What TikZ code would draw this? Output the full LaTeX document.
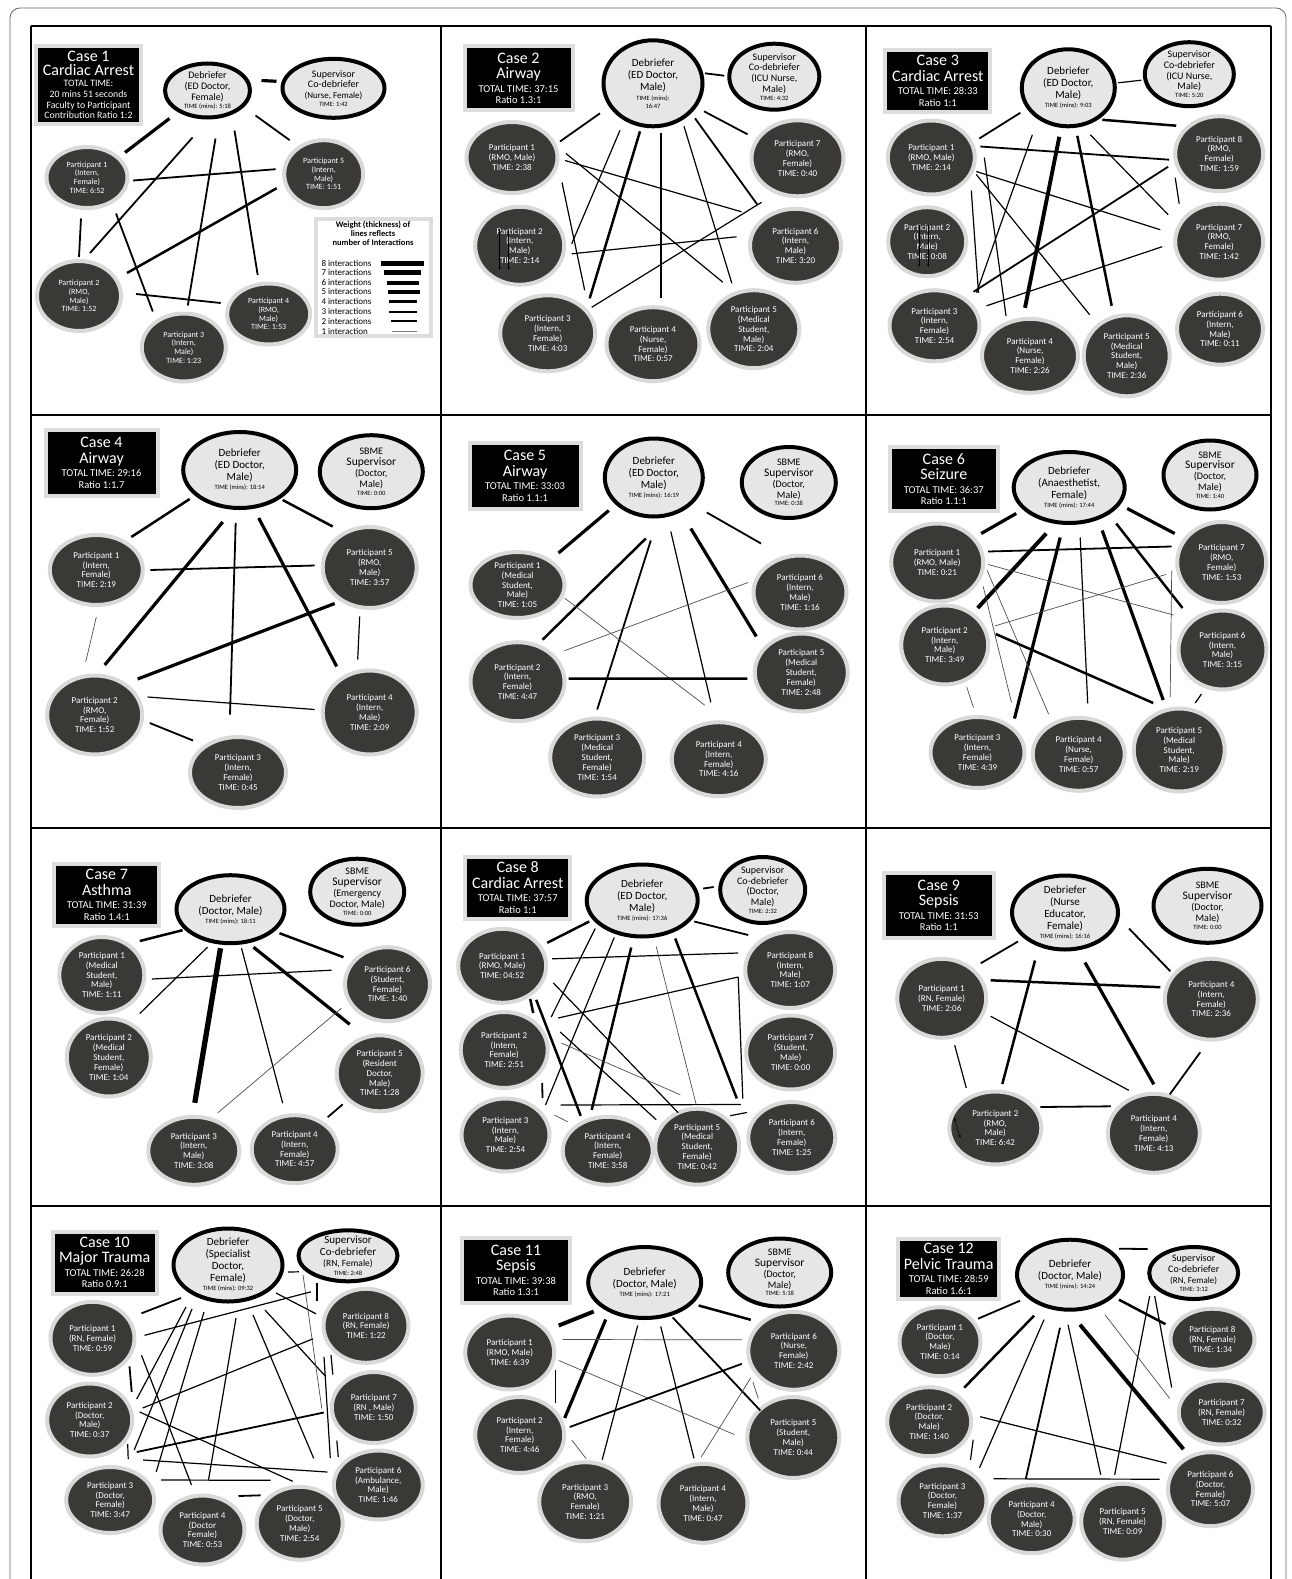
\documentclass[tikz,border=0pt]{standalone}
\usepackage{fontspec}
\setmainfont{Carlito}
\usetikzlibrary{shapes.geometric,calc,arrows.meta}

\definecolor{partfill}{HTML}{3B3936}
\definecolor{ringgray}{HTML}{D9D9D9}
\definecolor{debfill}{HTML}{E6E6E6}
\definecolor{boxgray}{HTML}{DDDDDD}

\newcommand{\cbig}[1]{{\fontsize{16}{16}\selectfont #1}}
\newcommand{\tm}[1]{{\fontsize{6.5}{7}\selectfont #1}}
\newcommand{\sv}[1]{{\fontsize{11.5}{12}\selectfont #1}}

\tikzset{
  deb/.style={ellipse, draw=black, line width=4pt, fill=debfill, inner sep=-2pt,
    align=center, font=\fontsize{11}{12}\selectfont},
  sup/.style={deb, font=\fontsize{10}{10.8}\selectfont},
  part/.style={ellipse, draw=ringgray, line width=4pt, fill=partfill, inner sep=-2pt,
    text=white, align=center, font=\fontsize{9}{9.8}\selectfont},
  casebox/.style={rectangle, fill=black, draw=boxgray, line width=4pt, inner sep=0pt,
    text=white, align=center, font=\fontsize{10.5}{11.5}\selectfont},
  legitem/.style={anchor=west, inner sep=0pt, font=\fontsize{9}{10}\selectfont},
  w1/.style={line width=0.7pt, draw=black!70},
  w2/.style={line width=1.2pt},
  w3/.style={line width=1.8pt},
  w4/.style={line width=2.5pt},
  w5/.style={line width=3.2pt},
  w6/.style={line width=3.9pt},
  w7/.style={line width=4.6pt},
  w8/.style={line width=5.3pt},
  stray/.style={line width=0.5pt, -{Stealth[length=3pt,width=2.5pt]}}
}

\begin{document}
\begin{tikzpicture}[x=1pt, y=-1pt]
\useasboundingbox (0,0) rectangle (1292,1579);

% frame and grid
\draw[black!60, line width=0.8pt, rounded corners=10pt] (10,8) rectangle (1286,1620);
\foreach \x in {30.5,441,866,1271}
  \draw[line width=2pt] (\x,26) -- (\x,1579);
\foreach \y in {26,415,828,1206}
  \draw[line width=2pt] (30.5,\y) -- (1271,\y);

% ---------------- Case 1
\node[casebox, font=\fontsize{9.8}{10.8}\selectfont, minimum width=105, minimum height=78] (c1t) at (88.5,85)
  {\cbig{Case 1}\\[2pt]\cbig{Cardiac Arrest}\\TOTAL TIME:\\20 mins 51 seconds\\Faculty to Participant\\Contribution Ratio 1:2};
\node[deb, font=\fontsize{10}{11}\selectfont, minimum width=85, minimum height=54] (c1d) at (207.5,90.5)
  {Debriefer\\(ED Doctor,\\Female)\\[-3pt]\tm{TIME (mins): 5:18}};
\node[sup, minimum width=102, minimum height=59] (c1s) at (333.5,88.3)
  {Supervisor\\Co-debriefer\\{\fontsize{9}{10}\selectfont (Nurse, Female)}\\[-3pt]\tm{TIME: 1:42}};
\node[part, font=\fontsize{8}{8.7}\selectfont, minimum width=81, minimum height=61] (c1p1) at (87,177.5) {Participant 1\\(Intern,\\Female)\\TIME: 6:52};
\node[part, font=\fontsize{8}{8.7}\selectfont, minimum width=79, minimum height=68] (c1p5) at (323.7,174.2) {Participant 5\\(Intern,\\Male)\\TIME: 1:51};
\node[part, font=\fontsize{8}{8.7}\selectfont, minimum width=84, minimum height=70] (c1p2) at (79,296) {Participant 2\\(RMO,\\Male)\\TIME: 1:52};
\node[part, font=\fontsize{8}{8.7}\selectfont, minimum width=83, minimum height=61] (c1p4) at (268.7,314) {Participant 4\\(RMO,\\Male)\\TIME: 1:53};
\node[part, font=\fontsize{8}{8.7}\selectfont, minimum width=84, minimum height=68] (c1p3) at (183.8,347.5) {Participant 3\\(Intern,\\Male)\\TIME: 1:23};

% legend
\node[draw=boxgray, line width=4pt, fill=white, inner sep=0pt, minimum width=115, minimum height=117.6] (leg) at (373.5,277.5) {};
\node[align=center, inner sep=0pt, font=\bfseries\fontsize{8.5}{9.3}\selectfont] (legt) at (373,233.5)
  {Weight (thickness) of\\lines reflects\\number of Interactions};
\foreach \n/\y/\xa/\xb/\lw in {8/263.3/381.3/423.7/5.3, 7/272.7/384/420.7/4.7, 6/282.7/387.3/418.7/4,
  5/291.7/388/419.7/3.7, 4/301.7/388.7/417/2.7, 3/311.7/389.3/417/2, 2/321/391.3/417/1.3}
{
  \node[legitem] (leg\n) at (321.3,\y) {\n\ interactions};
  \draw[line width=\lw] (\xa,\y) -- (\xb,\y);
}
\node[legitem] (leg1) at (321.3,331.7) {1 interaction};
\draw[line width=1pt, gray] (392,331.7) -- (417.3,331.7);

\draw[w5] ($(c1d)+(54,-10)$) -- ($(c1s)+(-57,-7)$);
\draw[w5] ($(c1d)+(-38,28)$) -- ($(c1p1)+(38,-25)$);
\draw[w3] ($(c1d)+(-15,47)$) -- ($(c1p2)+(11,-43)$);
\draw[w3] ($(c1d)+(8,48)$) -- ($(c1p3)+(4,-42)$);
\draw[w3] ($(c1d)+(27,40)$) -- ($(c1p4)+(-11,-39)$);
\draw[w3] ($(c1d)+(48,25)$) -- ($(c1p5)+(-34,-34)$);
\draw[w3] ($(c1p1)+(46,3)$) -- ($(c1p5)+(-48,-5)$);
\draw[w3] ($(c1p1)+(-6,41)$) -- ($(c1p2)+(0,-39)$);
\draw[w3] ($(c1p1)+(29,36)$) -- ($(c1p3)+(-31,-36)$);
\draw[w4] ($(c1p5)+(-47,14)$) -- ($(c1p2)+(48,-23)$);
\draw[w3] ($(c1p2)+(57,-2)$) -- ($(c1p4)+(-48,-11)$);

% ---------------- Case 2
\node[casebox, minimum width=108, minimum height=64] (c2t) at (518.5,78.3)
  {\cbig{Case 2}\\[4pt]\cbig{Airway}\\[2pt]TOTAL TIME: 37:15\\Ratio 1.3:1};
\node[deb, minimum width=99, minimum height=86] (c2d) at (653,83.3)
  {Debriefer\\(ED Doctor,\\Male)\\[-2pt]\tm{TIME (mins):}\\[-4pt]\tm{16:47}};
\node[sup, minimum width=90, minimum height=66] (c2s) at (774.3,76.7)
  {Supervisor\\Co-debriefer\\(ICU Nurse,\\Male)\\[-3pt]\tm{TIME: 4:32}};
\node[part, minimum width=91, minimum height=71] (c2p1) at (512,157.5) {Participant 1\\(RMO, Male)\\TIME: 2:38};
\node[part, minimum width=92, minimum height=76] (c2p7) at (797.5,158.3) {Participant 7\\(RMO,\\Female)\\TIME: 0:40};
\node[part, minimum width=89, minimum height=78] (c2p2) at (519.7,245.8) {Participant 2\\(Intern,\\Male)\\TIME: 2:14};
\node[part, minimum width=91, minimum height=74] (c2p6) at (795.5,245.8) {Participant 6\\(Intern,\\Male)\\TIME: 3:20};
\node[part, minimum width=95, minimum height=76] (c2p3) at (547.7,333.3) {Participant 3\\(Intern,\\Female)\\TIME: 4:03};
\node[part, minimum width=93, minimum height=74] (c2p4) at (653,344.2) {Participant 4\\(Nurse,\\Female)\\TIME: 0:57};
\node[part, minimum width=91, minimum height=78] (c2p5) at (753.8,329.2) {Participant 5\\(Medical\\Student,\\Male)\\TIME: 2:04};

\draw[w3] ($(c2d)+(52,-10)$) -- ($(c2s)+(-50,-1)$);
\draw[w3] ($(c2d)+(-53,30)$) -- ($(c2p1)+(48,-16)$);
\draw[w3] ($(c2d)+(51,28)$) -- ($(c2p7)+(-50,-24)$);
\draw[w2] ($(c2d)+(-33,47)$) -- ($(c2p2)+(52,-2)$);
\draw[w4] ($(c2d)+(-13,48)$) -- ($(c2p3)+(42,-35)$);
\draw[w4] ($(c2d)+(8,50)$) -- ($(c2p4)+(8,-46)$);
\draw[w2] ($(c2d)+(31,43)$) -- ($(c2p5)+(-22,-46)$);
\draw[w3] ($(c2d)+(42,35)$) -- ($(c2p6)+(-38,-41)$);
\draw[w2] ($(c2p1)+(53,3)$) -- ($(c2p6)+(-54,-34)$);
\draw[w2] ($(c2p1)+(54,-4)$) -- ($(c2p5)+(-31,-47)$);
\draw[w2] ($(c2p1)+(50,25)$) -- ($(c2p3)+(37,-43)$);
\draw[w2] ($(c2p2)+(52,8)$) -- ($(c2p6)+(-59,-9)$);
\draw[w2] ($(c2p3)+(44,-26)$) -- ($(c2p7)+(-36,44)$);
\draw[stray] ($(c2p2)+(-20,-17)$) -- ($(c2p2)+(-20,24)$);
\draw[stray] ($(c2p2)+(-11,-16)$) -- ($(c2p2)+(-11,24)$);

% ---------------- Case 3
\node[casebox, minimum width=105, minimum height=62] (c3t) at (937.8,80.8)
  {\cbig{Case 3}\\[4pt]\cbig{Cardiac Arrest}\\[2pt]TOTAL TIME: 28:33\\Ratio 1:1};
\node[deb, minimum width=93, minimum height=77] (c3d) at (1068.3,87.8)
  {Debriefer\\(ED Doctor,\\Male)\\[-3pt]\tm{TIME (mins): 9:03}};
\node[sup, minimum width=89, minimum height=64] (c3s) at (1189.3,74.2)
  {Supervisor\\Co-debriefer\\(ICU Nurse,\\Male)\\[-3pt]\tm{TIME: 5:20}};
\node[part, minimum width=87, minimum height=74] (c3p1) at (931.3,157.5) {Participant 1\\(RMO, Male)\\TIME: 2:14};
\node[part, minimum width=88, minimum height=75] (c3p8) at (1219.2,153.7) {Participant 8\\(RMO,\\Female)\\TIME: 1:59};
\node[part, minimum width=78, minimum height=69] (c3p2) at (927.2,241.7) {Participant 2\\(Intern,\\Male)\\TIME: 0:08};
\node[part, minimum width=88, minimum height=76] (c3p7) at (1219.2,241.7) {Participant 7\\(RMO,\\Female)\\TIME: 1:42};
\node[part, minimum width=90, minimum height=71] (c3p3) at (934.5,325.8) {Participant 3\\(Intern,\\Female)\\TIME: 2:54};
\node[part, minimum width=96, minimum height=74] (c3p4) at (1030,355.8) {Participant 4\\(Nurse,\\Female)\\TIME: 2:26};
\node[part, minimum width=86, minimum height=81] (c3p5) at (1126.7,355.8) {Participant 5\\(Medical\\Student,\\Male)\\TIME: 2:36};
\node[part, minimum width=86, minimum height=71] (c3p6) at (1220,329.2) {Participant 6\\(Intern,\\Male)\\TIME: 0:11};

\draw[w2] ($(c3d)+(50,-5)$) -- ($(c3s)+(-48,6)$);
\draw[w3] ($(c3d)+(-48,25)$) -- ($(c3p1)+(48,-19)$);
\draw[w4] ($(c3d)+(34,32)$) -- ($(c3p8)+(-43,-28)$);
\draw[w2] ($(c3d)+(-36,47)$) -- ($(c3p3)+(42,-33)$);
\draw[w6] ($(c3d)+(-9,49)$) -- ($(c3p4)+(-5,-48)$);
\draw[w4] ($(c3d)+(9,48)$) -- ($(c3p5)+(-15,-50)$);
\draw[w2] ($(c3d)+(22,47)$) -- ($(c3p7)+(-51,-27)$);
\draw[w3] ($(c3p1)+(49,-11)$) -- ($(c3p8)+(-50,6)$);
\draw[w2] ($(c3p1)+(45,14)$) -- ($(c3p7)+(-59,-12)$);
\draw[w2] ($(c3p1)+(45,17)$) -- ($(c3p5)+(-37,-41)$);
\draw[w2] ($(c3p1)+(53,0)$) -- ($(c3p4)+(-24,-40)$);
\draw[w2] ($(c3p1)+(40,33)$) -- ($(c3p3)+(44,-33)$);
\draw[w3] ($(c3p3)+(39,-34)$) -- ($(c3p8)+(-51,13)$);
\draw[w2] ($(c3p3)+(52,-20)$) -- ($(c3p7)+(-57,5)$);
\draw[w2] ($(c3p8)+(-44,24)$) -- ($(c3p7)+(-40,-38)$);
\draw[stray] ($(c3p2)+(-8,-17)$) -- ($(c3p2)+(-8,25)$);
\draw[stray] ($(c3p2)+(1,-17)$) -- ($(c3p2)+(1,25)$);

% ---------------- Case 4
\node[casebox, minimum width=112, minimum height=66] (c4t) at (101.5,462.8)
  {\cbig{Case 4}\\[4pt]\cbig{Airway}\\[2pt]TOTAL TIME: 29:16\\Ratio 1:1.7};
\node[deb, minimum width=113, minimum height=76] (c4d) at (239.7,470)
  {Debriefer\\(ED Doctor,\\Male)\\[-3pt]\tm{TIME (mins): 18:14}};
\node[sup, minimum width=103, minimum height=73] (c4s) at (371.3,471.7)
  {SBME\\\sv{Supervisor}\\(Doctor,\\Male)\\[-3pt]\tm{TIME: 0:00}};
\node[part, minimum width=93, minimum height=70] (c4p1) at (96.3,570) {Participant 1\\(Intern,\\Female)\\TIME: 2:19};
\node[part, minimum width=94, minimum height=81] (c4p5) at (369.7,567.5) {Participant 5\\(RMO,\\Male)\\TIME: 3:57};
\node[part, minimum width=95, minimum height=79] (c4p2) at (94.7,715) {Participant 2\\(RMO,\\Female)\\TIME: 1:52};
\node[part, minimum width=94, minimum height=84] (c4p4) at (369.7,712.5) {Participant 4\\(Intern,\\Male)\\TIME: 2:09};
\node[part, minimum width=96, minimum height=71] (c4p3) at (238,772.5) {Participant 3\\(Intern,\\Female)\\TIME: 0:45};

\draw[w4] ($(c4d)+(-50,29)$) -- ($(c4p1)+(35,-33)$);
\draw[w4] ($(c4d)+(43,30)$) -- ($(c4p5)+(-37,-41)$);
\draw[w5] ($(c4d)+(-17,52)$) -- ($(c4p2)+(10,-50)$);
\draw[w3] ($(c4d)+(-4,53)$) -- ($(c4p3)+(-8,-58)$);
\draw[w5] ($(c4d)+(19,48)$) -- ($(c4p4)+(-33,-46)$);
\draw[w3] ($(c4p1)+(54,0)$) -- ($(c4p5)+(-55,-2)$);
\draw[w1] ($(c4p1)+(0,47)$) -- ($(c4p2)+(-9,-53)$);
\draw[w5] ($(c4p5)+(-35,36)$) -- ($(c4p2)+(43,-36)$);
\draw[w2] ($(c4p5)+(-10,49)$) -- ($(c4p4)+(-12,-53)$);
\draw[w2] ($(c4p2)+(53,-18)$) -- ($(c4p4)+(-55,-3)$);
\draw[w3] ($(c4p2)+(55,8)$) -- ($(c4p3)+(-45,-32)$);

% ---------------- Case 5
\node[casebox, minimum width=111, minimum height=66] (c5t) at (525,475.8)
  {\cbig{Case 5}\\[4pt]\cbig{Airway}\\[2pt]TOTAL TIME: 33:03\\Ratio 1.1:1};
\node[deb, minimum width=98, minimum height=78] (c5d) at (653.8,477.5)
  {Debriefer\\(ED Doctor,\\Male)\\[-3pt]\tm{TIME (mins): 16:19}};
\node[sup, minimum width=94, minimum height=71] (c5s) at (788.8,482.5)
  {SBME\\\sv{Supervisor}\\(Doctor,\\Male)\\[-3pt]\tm{TIME: 0:38}};
\node[part, minimum width=94, minimum height=66] (c5p1) at (517.5,585) {Participant 1\\(Medical\\Student,\\Male)\\TIME: 1:05};
\node[part, minimum width=93, minimum height=74] (c5p6) at (800,592.5) {Participant 6\\(Intern,\\Male)\\TIME: 1:16};
\node[part, minimum width=94, minimum height=79] (c5p2) at (517.5,681.7) {Participant 2\\(Intern,\\Female)\\TIME: 4:47};
\node[part, minimum width=93, minimum height=78] (c5p5) at (801.3,672.5) {Participant 5\\(Medical\\Student,\\Female)\\TIME: 2:48};
\node[part, minimum width=94, minimum height=78] (c5p3) at (597.2,757.5) {Participant 3\\(Medical\\Student,\\Female)\\TIME: 1:54};
\node[part, minimum width=94, minimum height=74] (c5p4) at (718.8,759.2) {Participant 4\\(Intern,\\Female)\\TIME: 4:16};

\draw[w5] ($(c5d)+(-45,33)$) -- ($(c5p1)+(41,-32)$);
\draw[w3] ($(c5d)+(53,35)$) -- ($(c5p6)+(-39,-49)$);
\draw[w4] ($(c5d)+(-8,61)$) -- ($(c5p2)+(25,-42)$);
\draw[w3] ($(c5d)+(-3,63)$) -- ($(c5p3)+(0,-48)$);
\draw[w2] ($(c5d)+(17,54)$) -- ($(c5p4)+(-8,-57)$);
\draw[w5] ($(c5d)+(37,51)$) -- ($(c5p5)+(-45,-36)$);
\draw[w1] ($(c5p1)+(47,13)$) -- ($(c5p4)+(-14,-54)$);
\draw[w1] ($(c5p2)+(47,-31)$) -- ($(c5p6)+(-52,-10)$);
\draw[w4] ($(c5p2)+(51,-3)$) -- ($(c5p5)+(-54,6)$);

% ---------------- Case 6
\node[casebox, minimum width=108, minimum height=64] (c6t) at (943.8,479.3)
  {\cbig{Case 6}\\[4pt]\cbig{Seizure}\\[2pt]TOTAL TIME: 36:37\\Ratio 1.1:1};
\node[deb, minimum width=111, minimum height=71] (c6d) at (1069.2,487.5)
  {Debriefer\\(Anaesthetist,\\Female)\\[-3pt]\tm{TIME (mins): 17:44}};
\node[sup, minimum width=93, minimum height=69] (c6s) at (1210,475)
  {SBME\\\sv{Supervisor}\\(Doctor,\\Male)\\[-3pt]\tm{TIME: 1:40}};
\node[part, minimum width=92, minimum height=78] (c6p1) at (937.2,562.5) {Participant 1\\(RMO, Male)\\TIME: 0:21};
\node[part, minimum width=89, minimum height=81] (c6p7) at (1221.7,562.5) {Participant 7\\(RMO,\\Female)\\TIME: 1:53};
\node[part, minimum width=87, minimum height=79] (c6p2) at (944.7,645) {Participant 2\\(Intern,\\Male)\\TIME: 3:49};
\node[part, minimum width=88, minimum height=79] (c6p6) at (1222.5,650) {Participant 6\\(Intern,\\Male)\\TIME: 3:15};
\node[part, minimum width=94, minimum height=71] (c6p3) at (977.5,752.5) {Participant 3\\(Intern,\\Female)\\TIME: 4:39};
\node[part, minimum width=92, minimum height=73] (c6p4) at (1078.7,754.3) {Participant 4\\(Nurse,\\Female)\\TIME: 0:57};
\node[part, minimum width=91, minimum height=83] (c6p5) at (1179.2,750) {Participant 5\\(Medical\\Student,\\Male)\\TIME: 2:19};

\draw[w5] ($(c6d)+(-53,26)$) -- ($(c6p1)+(44,-29)$);
\draw[w5] ($(c6d)+(58,21)$) -- ($(c6p7)+(-47,-29)$);
\draw[w6] ($(c6d)+(-23,46)$) -- ($(c6p2)+(33,-37)$);
\draw[w5] ($(c6d)+(-9,50)$) -- ($(c6p3)+(37,-34)$);
\draw[w2] ($(c6d)+(11,50)$) -- ($(c6p4)+(9,-51)$);
\draw[w5] ($(c6d)+(33,43)$) -- ($(c6p5)+(-16,-50)$);
\draw[w4] ($(c6d)+(47,36)$) -- ($(c6p6)+(-40,-42)$);
\draw[w3] ($(c6p1)+(51,-11)$) -- ($(c6p7)+(-50,-16)$);
\draw[w1] ($(c6p1)+(51,2)$) -- ($(c6p6)+(-49,-35)$);
\draw[w1] ($(c6p1)+(50,8)$) -- ($(c6p4)+(-30,-40)$);
\draw[w1] ($(c6p1)+(46,24)$) -- ($(c6p3)+(34,-50)$);
\draw[w1] ($(c6p2)+(50,-19)$) -- ($(c6p7)+(-56,12)$);
\draw[w4] ($(c6p2)+(51,-11)$) -- ($(c6p5)+(-26,-47)$);
\draw[w1] ($(c6p2)+(22,42)$) -- ($(c6p3)+(-4,-45)$);
\draw[w1] ($(c6p7)+(-50,8)$) -- ($(c6p5)+(-9,-53)$);
\draw[w2] ($(c6p6)+(-21,44)$) -- ($(c6p5)+(16,-47)$);

% ---------------- Case 7
\node[casebox, minimum width=105, minimum height=62] (c7t) at (106.8,895)
  {\cbig{Case 7}\\[4pt]\cbig{Asthma}\\[2pt]TOTAL TIME: 31:39\\Ratio 1.4:1};
\node[deb, minimum width=108, minimum height=68] (c7d) at (230.5,909.2)
  {Debriefer\\(Doctor, Male)\\[-3pt]\tm{TIME (mins): 18:11}};
\node[sup, minimum width=94, minimum height=66] (c7s) at (357.2,891.7)
  {SBME\\\sv{Supervisor}\\(Emergency\\Doctor, Male)\\[-3pt]\tm{TIME: 0:00}};
\node[part, minimum width=85, minimum height=76] (c7p1) at (101.8,975) {Participant 1\\(Medical\\Student,\\Male)\\TIME: 1:11};
\node[part, minimum width=85, minimum height=74] (c7p6) at (387.5,984.2) {Participant 6\\(Student,\\Female)\\TIME: 1:40};
\node[part, minimum width=84, minimum height=78] (c7p2) at (108.8,1057.5) {Participant 2\\(Medical\\Student,\\Female)\\TIME: 1:04};
\node[part, minimum width=86, minimum height=76] (c7p5) at (379.7,1073.3) {Participant 5\\(Resident\\Doctor,\\Male)\\TIME: 1:28};
\node[part, minimum width=91, minimum height=68] (c7p3) at (193.8,1150.8) {Participant 3\\(Intern,\\Male)\\TIME: 3:08};
\node[part, minimum width=86, minimum height=68] (c7p4) at (294.7,1149.2) {Participant 4\\(Intern,\\Female)\\TIME: 4:57};

\draw[w4] ($(c7d)+(-48,21)$) -- ($(c7p1)+(38,-34)$);
\draw[w4] ($(c7d)+(49,24)$) -- ($(c7p6)+(-44,-27)$);
\draw[w2] ($(c7d)+(-23,38)$) -- ($(c7p2)+(31,-44)$);
\draw[w8] ($(c7d)+(-10,39)$) -- ($(c7p3)+(1,-48)$);
\draw[w2] ($(c7d)+(11,39)$) -- ($(c7p4)+(-12,-46)$);
\draw[w5] ($(c7d)+(23,38)$) -- ($(c7p5)+(-30,-49)$);
\draw[w2] ($(c7p1)+(50,4)$) -- ($(c7p6)+(-56,-14)$);
\draw[w1] ($(c7p3)+(24,-38)$) -- ($(c7p6)+(-46,24)$);
\draw[w3] ($(c7p4)+(33,-32)$) -- ($(c7p5)+(-37,31)$);

% ---------------- Case 8
\node[casebox, minimum width=105, minimum height=62] (c8t) at (517.7,887.5)
  {\cbig{Case 8}\\[4pt]\cbig{Cardiac Arrest}\\[2pt]TOTAL TIME: 37:57\\Ratio 1:1};
\node[deb, minimum width=111, minimum height=72] (c8d) at (642.2,900.5)
  {Debriefer\\(ED Doctor,\\Male)\\[-3pt]\tm{TIME (mins): 17:36}};
\node[sup, minimum width=85, minimum height=66] (c8s) at (762.7,890)
  {Supervisor\\Co-debriefer\\(Doctor,\\Male)\\[-3pt]\tm{TIME: 2:32}};
\node[part, minimum width=88, minimum height=74] (c8p1) at (502.2,965.8) {Participant 1\\(RMO, Male)\\TIME: 04:52};
\node[part, minimum width=90, minimum height=76] (c8p8) at (790.2,970) {Participant 8\\(Intern,\\Male)\\TIME: 1:07};
\node[part, minimum width=87, minimum height=76] (c8p2) at (504.2,1050) {Participant 2\\(Intern,\\Female)\\TIME: 2:51};
\node[part, minimum width=89, minimum height=74] (c8p7) at (790.7,1052.5) {Participant 7\\(Student,\\Male)\\TIME: 0:00};
\node[part, minimum width=88, minimum height=73] (c8p3) at (505.5,1135) {Participant 3\\(Intern,\\Male)\\TIME: 2:54};
\node[part, minimum width=90, minimum height=68] (c8p4) at (607.7,1150.8) {Participant 4\\(Intern,\\Female)\\TIME: 3:58};
\node[part, minimum width=84, minimum height=76] (c8p5) at (697.2,1146.7) {Participant 5\\(Medical\\Student,\\Female)\\TIME: 0:42};
\node[part, minimum width=87, minimum height=71] (c8p6) at (791.8,1137.5) {Participant 6\\(Intern,\\Female)\\TIME: 1:25};

\draw[w3] ($(c8d)+(61,-12)$) -- ($(c8s)+(-49,-3)$);
\draw[w4] ($(c8d)+(-53,21)$) -- ($(c8p1)+(45,-23)$);
\draw[w3] ($(c8d)+(52,21)$) -- ($(c8p8)+(-42,-35)$);
\draw[w2] ($(c8d)+(-47,28)$) -- ($(c8p2)+(47,-33)$);
\draw[w2] ($(c8d)+(-28,37)$) -- ($(c8p3)+(40,-30)$);
\draw[w4] ($(c8d)+(-11,47)$) -- ($(c8p4)+(-16,-41)$);
\draw[w1] ($(c8d)+(14,46)$) -- ($(c8p5)+(-1,-42)$);
\draw[w4] ($(c8d)+(33,38)$) -- ($(c8p6)+(-55,-39)$);
\draw[w2] ($(c8p1)+(50,-7)$) -- ($(c8p8)+(-52,-17)$);
\draw[w2] ($(c8p1)+(51,17)$) -- ($(c8p5)+(-19,-34)$);
\draw[w4] ($(c8p1)+(34,34)$) -- ($(c8p4)+(-27,-35)$);
\draw[w4] ($(c8p1)+(28,33)$) -- ($(c8p2)+(29,-37)$);
\draw[w2] ($(c8p2)+(54,-32)$) -- ($(c8p8)+(-52,7)$);
\draw[w2] ($(c8p8)+(-52,7)$) -- ($(c8p6)+(-49,-39)$);
\draw[w2] ($(c8p2)+(56,-18)$) -- ($(c8p5)+(-41,-27)$);
\draw[w1] ($(c8p2)+(57,-7)$) -- ($(c8p5)+(-17,-52)$);
\draw[w3] ($(c8p2)+(38,33)$) -- ($(c8p3)+(37,-37)$);
\draw[w2] ($(c8p3)+(55,-30)$) -- ($(c8p6)+(-51,-33)$);
\draw[w1] ($(c8p3)+(49,-20)$) -- ($(c8p4)+(-40,-29)$);
\draw[w2] ($(c8p5)+(33,-31)$) -- ($(c8p6)+(-45,-25)$);

% ---------------- Case 9
\node[casebox, minimum width=110, minimum height=65] (c9t) at (938.8,905.5)
  {\cbig{Case 9}\\[4pt]\cbig{Sepsis}\\[2pt]TOTAL TIME: 31:53\\Ratio 1:1};
\node[deb, minimum width=106, minimum height=74] (c9d) at (1065,912.5)
  {Debriefer\\(Nurse\\Educator,\\Female)\\[-3pt]\tm{TIME (mins): 16:16}};
\node[sup, minimum width=108, minimum height=74] (c9s) at (1207.5,905.8)
  {SBME\\\sv{Supervisor}\\(Doctor,\\Male)\\[-3pt]\tm{TIME: 0:00}};
\node[part, minimum width=89, minimum height=79] (c9p1) at (941.7,998.3) {Participant 1\\(RN, Female)\\TIME: 2:06};
\node[part, minimum width=93, minimum height=81] (c9p4) at (1211.3,999.2) {Participant 4\\(Intern,\\Female)\\TIME: 2:36};
\node[part, minimum width=92, minimum height=73] (c9p2) at (995.3,1128) {Participant 2\\(RMO,\\Male)\\TIME: 6:42};
\node[part, minimum width=92, minimum height=79] (c9p4b) at (1153.8,1133.3) {Participant 4\\(Intern,\\Female)\\TIME: 4:13};

\draw[w3] ($(c9d)+(-47,29)$) -- ($(c9p1)+(39,-35)$);
\draw[w3] ($(c9d)+(64,16)$) -- ($(c9p4)+(-41,-28)$);
\draw[w4] ($(c9d)+(-30,48)$) -- ($(c9p2)+(7,-44)$);
\draw[w5] ($(c9d)+(20,50)$) -- ($(c9p4b)+(0,-49)$);
\draw[w4] ($(c9p1)+(49,-18)$) -- ($(c9p4)+(-51,-12)$);
\draw[w2] ($(c9p1)+(49,18)$) -- ($(c9p4b)+(-25,-43)$);
\draw[w2] ($(c9p1)+(13,47)$) -- ($(c9p2)+(-29,-40)$);
\draw[w3] ($(c9p2)+(45,-21)$) -- ($(c9p4b)+(-43,-27)$);
\draw[w3] ($(c9p4)+(-11,53)$) -- ($(c9p4b)+(16,-39)$);
\draw[line width=0.5pt, {Stealth[length=3pt,width=2.5pt]}-{Stealth[length=3pt,width=2.5pt]}] ($(c9p2)+(-41,-10)$) -- ($(c9p2)+(-35,10)$);

% ---------------- Case 10
\node[casebox, minimum width=104, minimum height=62] (c10t) at (104.7,1262.5)
  {\cbig{Case 10}\\[4pt]\cbig{Major Trauma}\\[2pt]TOTAL TIME: 26:28\\Ratio 0.9:1};
\node[deb, minimum width=109, minimum height=73] (c10d) at (228,1265)
  {Debriefer\\(Specialist\\Doctor,\\Female)\\[-3pt]\tm{TIME (mins): 09:32}};
\node[sup, font=\fontsize{11}{11.5}\selectfont, minimum width=99, minimum height=51] (c10s) at (348,1255.8)
  {Supervisor\\Co-debriefer\\{\fontsize{9.5}{10}\selectfont (RN, Female)}\\[-3pt]\tm{TIME: 2:48}};
\node[part, minimum width=84, minimum height=73] (c10p1) at (92.5,1338.3) {Participant 1\\(RN, Female)\\TIME: 0:59};
\node[part, minimum width=85, minimum height=74] (c10p8) at (366,1325.8) {Participant 8\\(RN, Female)\\TIME: 1:22};
\node[part, minimum width=85, minimum height=73] (c10p2) at (89.7,1420) {Participant 2\\(Doctor,\\Male)\\TIME: 0:37};
\node[part, minimum width=84, minimum height=71] (c10p7) at (373.8,1407.5) {Participant 7\\(RN , Male)\\TIME: 1:50};
\node[part, minimum width=88, minimum height=66] (c10p3) at (110.2,1500) {Participant 3\\(Doctor,\\Female)\\TIME: 3:47};
\node[part, minimum width=84, minimum height=69] (c10p4) at (202.5,1530) {Participant 4\\(Doctor\\Female)\\TIME: 0:53};
\node[part, minimum width=86, minimum height=73] (c10p5) at (299.7,1523.3) {Participant 5\\(Doctor,\\Male)\\TIME: 2:54};
\node[part, minimum width=89, minimum height=69] (c10p6) at (378.3,1485) {Participant 6\\(Ambulance,\\Male)\\TIME: 1:46};

\draw[w3] ($(c10d)+(-47,33)$) -- ($(c10p1)+(49,-25)$);
\draw[w2] ($(c10d)+(60,7)$) -- ($(c10s)+(-49,16)$);
\draw[w2] ($(c10d)+(48,28)$) -- ($(c10p8)+(-50,-12)$);
\draw[w2] ($(c10d)+(-42,42)$) -- ($(c10p2)+(47,-21)$);
\draw[w2] ($(c10d)+(-36,44)$) -- ($(c10p3)+(24,-50)$);
\draw[w2] ($(c10d)+(-24,47)$) -- ($(c10p3)+(46,-28)$);
\draw[w2] ($(c10d)+(8,53)$) -- ($(c10p4)+(6,-50)$);
\draw[w2] ($(c10d)+(25,50)$) -- ($(c10p5)+(14,-65)$);
\draw[w2] ($(c10d)+(37,45)$) -- ($(c10p7)+(-49,-32)$);
\draw[w1] ($(c10s)+(-45,19)$) -- ($(c10p7)+(-52,1)$);
\draw[w2] ($(c10s)+(-31,27)$) -- ($(c10p8)+(-49,-25)$);
\draw[w2] ($(c10p1)+(52,-3)$) -- ($(c10p8)+(-55,-34)$);
\draw[w2] ($(c10p1)+(49,17)$) -- ($(c10p4)+(-11,-45)$);
\draw[w3] ($(c10p1)+(37,28)$) -- ($(c10p2)+(42,-28)$);
\draw[w2] ($(c10p2)+(53,-12)$) -- ($(c10p8)+(-53,13)$);
\draw[w2] ($(c10p2)+(50,-8)$) -- ($(c10p5)+(-7,-42)$);
\draw[w3] ($(c10p2)+(47,32)$) -- ($(c10p7)+(-50,5)$);
\draw[w2] ($(c10p2)+(38,24)$) -- ($(c10p3)+(18,-41)$);
\draw[w2] ($(c10p3)+(33,-40)$) -- ($(c10p6)+(-51,-13)$);
\draw[w2] ($(c10p3)+(51,-20)$) -- ($(c10p5)+(-29,-43)$);
\draw[w3] ($(c10p4)+(36,-34)$) -- ($(c10p5)+(-39,-28)$);
\draw[w2] ($(c10p8)+(-35,29)$) -- ($(c10p7)+(-41,-33)$);
\draw[w2] ($(c10p8)+(-42,31)$) -- ($(c10p6)+(-48,-27)$);
\draw[w2] ($(c10p7)+(-37,33)$) -- ($(c10p6)+(-40,-28)$);

% ---------------- Case 11
\node[casebox, minimum width=108, minimum height=65] (c11t) at (516,1270.5)
  {\cbig{Case 11}\\[4pt]\cbig{Sepsis}\\[2pt]TOTAL TIME: 39:38\\Ratio 1.3:1};
\node[deb, minimum width=113, minimum height=71] (c11d) at (644.7,1282.5)
  {Debriefer\\(Doctor, Male)\\[-3pt]\tm{TIME (mins): 17:21}};
\node[sup, minimum width=103, minimum height=68] (c11s) at (779.7,1272.5)
  {SBME\\\sv{Supervisor}\\(Doctor,\\Male)\\[-3pt]\tm{TIME: 5:18}};
\node[part, minimum width=89, minimum height=74] (c11p1) at (509.7,1352.5) {Participant 1\\(RMO, Male)\\TIME: 6:39};
\node[part, minimum width=91, minimum height=78] (c11p6) at (793.8,1350.8) {Participant 6\\(Nurse,\\Female)\\TIME: 2:42};
\node[part, minimum width=89, minimum height=76] (c11p2) at (519.7,1435) {Participant 2\\(Intern,\\Female)\\TIME: 4:46};
\node[part, minimum width=92, minimum height=81] (c11p5) at (793.3,1437.5) {Participant 5\\(Student,\\Male)\\TIME: 0:44};
\node[part, minimum width=92, minimum height=79] (c11p3) at (585.2,1501.7) {Participant 3\\(RMO,\\Female)\\TIME: 1:21};
\node[part, minimum width=89, minimum height=79] (c11p4) at (703,1503.3) {Participant 4\\(Intern,\\Male)\\TIME: 0:47};

\draw[w6] ($(c11d)+(-51,29)$) -- ($(c11p1)+(49,-27)$);
\draw[w4] ($(c11d)+(54,23)$) -- ($(c11p6)+(-43,-31)$);
\draw[w5] ($(c11d)+(-39,37)$) -- ($(c11p2)+(45,-17)$);
\draw[w2] ($(c11d)+(-7,43)$) -- ($(c11p3)+(17,-42)$);
\draw[w2] ($(c11d)+(16,44)$) -- ($(c11p4)+(-9,-45)$);
\draw[w3] ($(c11d)+(28,35)$) -- ($(c11p5)+(-33,-27)$);
\draw[w1] ($(c11p1)+(53,-13)$) -- ($(c11p6)+(-52,-11)$);
\draw[w1] ($(c11p1)+(49,8)$) -- ($(c11p5)+(-59,-3)$);
\draw[w2] ($(c11p1)+(46,17)$) -- ($(c11p2)+(36,-32)$);
\draw[w3] ($(c11p2)+(50,-8)$) -- ($(c11p6)+(-52,13)$);
\draw[w1] ($(c11p2)+(52,5)$) -- ($(c11p3)+(1,-43)$);
\draw[w1] ($(c11p4)+(-2,-46)$) -- ($(c11p6)+(-43,27)$);
\draw[w1] ($(c11p6)+(-41,31)$) -- ($(c11p5)+(-35,-39)$);

% ---------------- Case 12
\node[casebox, minimum width=101, minimum height=60] (c12t) at (948.7,1268.8)
  {\cbig{Case 12}\\[4pt]\cbig{Pelvic Trauma}\\[2pt]TOTAL TIME: 28:59\\Ratio 1.6:1};
\node[deb, minimum width=106, minimum height=70] (c12d) at (1070,1274.7)
  {Debriefer\\(Doctor, Male)\\[-3pt]\tm{TIME (mins): 14:24}};
\node[sup, minimum width=89, minimum height=52] (c12s) at (1193.7,1273)
  {Supervisor\\Co-debriefer\\{\fontsize{9}{10}\selectfont (RN, Female)}\\[-3pt]\tm{TIME: 3:12}};
\node[part, minimum width=81, minimum height=69] (c12p1) at (940,1341.7) {Participant 1\\(Doctor,\\Male)\\TIME: 0:14};
\node[part, minimum width=84, minimum height=61] (c12p8) at (1212.5,1339.2) {Participant 8\\(RN, Female)\\TIME: 1:34};
\node[part, minimum width=84, minimum height=69] (c12p2) at (929.2,1421.7) {Participant 2\\(Doctor,\\Male)\\TIME: 1:40};
\node[part, minimum width=86, minimum height=64] (c12p7) at (1221.7,1412.5) {Participant 7\\(RN, Female)\\TIME: 0:32};
\node[part, minimum width=88, minimum height=71] (c12p3) at (942.5,1500.8) {Participant 3\\(Doctor,\\Female)\\TIME: 1:37};
\node[part, minimum width=86, minimum height=68] (c12p4) at (1031.7,1519.2) {Participant 4\\(Doctor,\\Male)\\TIME: 0:30};
\node[part, minimum width=83, minimum height=76] (c12p5) at (1122.7,1521.7) {Participant 5\\(RN, Female)\\TIME: 0:09};
\node[part, minimum width=85, minimum height=74] (c12p6) at (1210.5,1489.2) {Participant 6\\(Doctor,\\Female)\\TIME: 5:07};

\draw[w3] ($(c12d)+(49,-26)$) -- ($(c12s)+(-46,-24)$);
\draw[w3] ($(c12d)+(-50,26)$) -- ($(c12p1)+(38,-23)$);
\draw[w4] ($(c12d)+(49,25)$) -- ($(c12p8)+(-47,-15)$);
\draw[w4] ($(c12d)+(-36,41)$) -- ($(c12p2)+(35,-34)$);
\draw[w2] ($(c12d)+(-26,45)$) -- ($(c12p3)+(37,-33)$);
\draw[w3] ($(c12d)+(-10,53)$) -- ($(c12p4)+(-6,-40)$);
\draw[w2] ($(c12d)+(-2,50)$) -- ($(c12p5)+(-22,-47)$);
\draw[w6] ($(c12d)+(10,50)$) -- ($(c12p6)+(-27,-40)$);
\draw[w1] ($(c12d)+(35,40)$) -- ($(c12p7)+(-52,-14)$);
\draw[w2] ($(c12s)+(-44,23)$) -- ($(c12p5)+(-8,-47)$);
\draw[w2] ($(c12s)+(-39,23)$) -- ($(c12p7)+(-50,-25)$);
\draw[w2] ($(c12p2)+(51,-5)$) -- ($(c12p6)+(-44,-26)$);
\draw[w2] ($(c12p2)+(44,18)$) -- ($(c12p3)+(28,-41)$);
\draw[w2] ($(c12p3)+(51,-22)$) -- ($(c12p6)+(-51,-10)$);
\end{tikzpicture}
\end{document}
